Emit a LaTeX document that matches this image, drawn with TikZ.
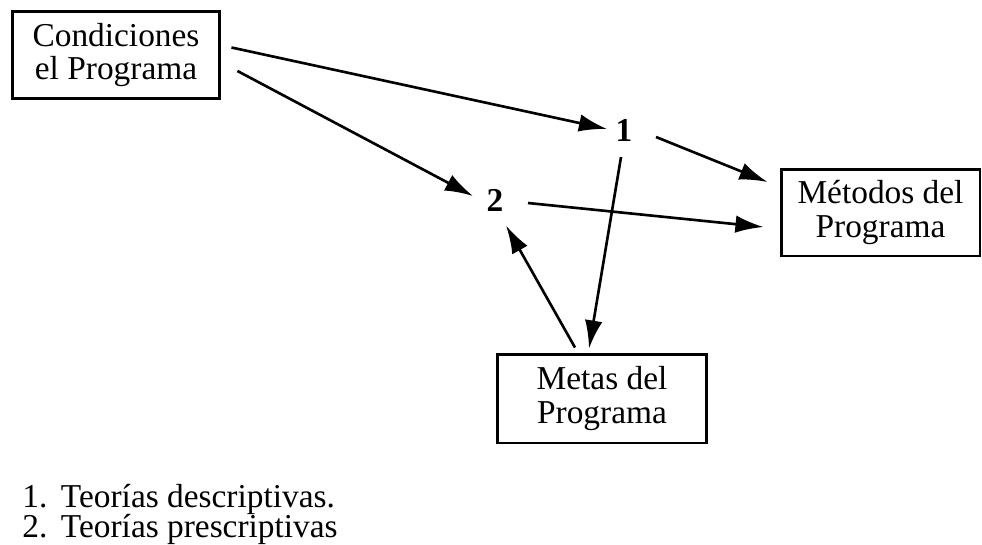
\documentclass[tikz,border=0pt]{standalone}
\usepackage{fontspec}
\setmainfont{Liberation Serif}
\usetikzlibrary{arrows.meta}
\begin{document}
\begin{tikzpicture}[x=0.02cm,y=-0.02cm,
  txt/.style={font=\fontsize{19}{19}\selectfont},
  box/.style={txt, draw, line width=1.7pt, inner sep=0pt, align=center},
  num/.style={font=\fontsize{19}{19}\selectfont\bfseries, inner sep=0pt},
  arr/.style={-{Latex[length=16pt,width=10pt]}, line width=1.5pt}]
\path[use as bounding box, fill=white] (0,0) rectangle (982,544);
\node[box, minimum width=4.16cm, minimum height=1.76cm] (cond) at (116,55) {Condiciones\\el Programa};
\node[box, minimum width=3.98cm, minimum height=1.74cm] (met) at (880.5,212.5) {Métodos del\\Programa};
\node[box, minimum width=4.18cm, minimum height=1.78cm] (meta) at (602,398.5) {Metas del\\Programa};
\node[num] (n1) at (624,130) {1};
\node[num] (n2) at (495,200) {2};
\draw[arr] ([shift={(10,-7.5)}]cond.east) -- ([shift={(-17,-1)}]n1.center);
\draw[arr] ([shift={(16,16)}]cond.east) -- ([shift={(-22,-4)}]n2.center);
\draw[arr] ([shift={(32,7)}]n1.center) -- ([shift={(-12,-30.5)}]met.west);
\draw[arr] ([shift={(33,3)}]n2.center) -- ([shift={(-16,14.5)}]met.west);
\draw[arr] ([shift={(-3,27)}]n1.center) -- ([shift={(-13,-4)}]meta.north);
\draw[arr] ([shift={(-27,-5)}]meta.north) -- ([shift={(11,25.5)}]n2.center);
\node[txt, anchor=base west, inner sep=0pt] (leg1) at (22,507) {\makebox[22pt][l]{1.}Teorías descriptivas.};
\node[txt, anchor=base west, inner sep=0pt] (leg2) at (22,537.5) {\makebox[22pt][l]{2.}Teorías prescriptivas};
\end{tikzpicture}
\end{document}
